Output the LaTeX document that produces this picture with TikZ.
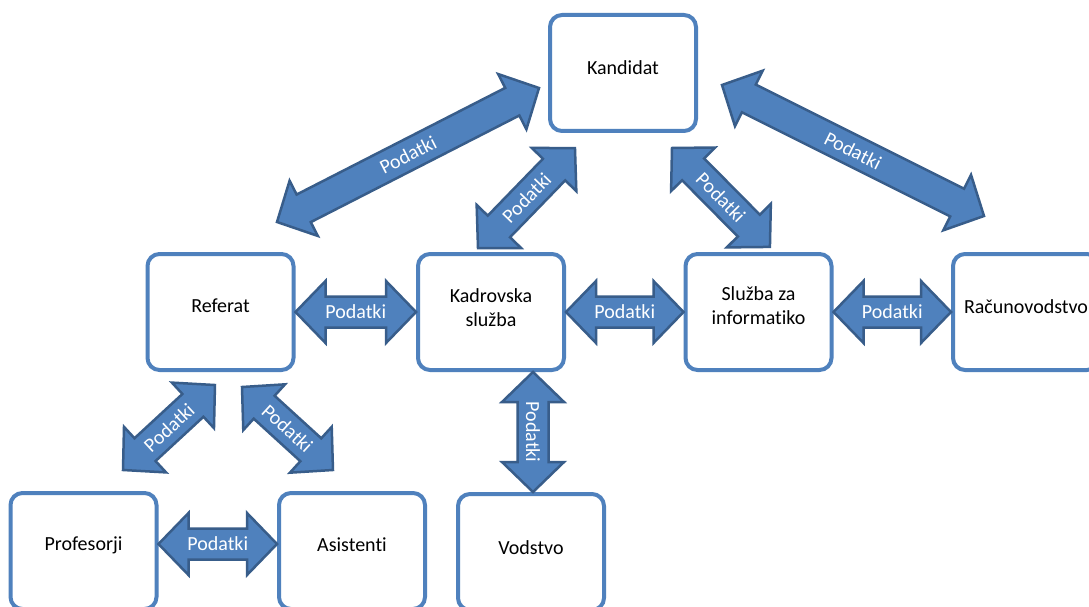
\documentclass[tikz,border=0pt]{standalone}
\usepackage{fontspec}
\setmainfont{Carlito}[Ligatures={NoCommon,NoContextual}]
\usetikzlibrary{calc}
\definecolor{boxblue}{HTML}{4F81BD}
\definecolor{arrowfill}{HTML}{4F81BD}
\definecolor{arrowedge}{HTML}{385D8A}
\tikzset{
  box/.style={draw=boxblue, line width=4pt, fill=white, rounded corners=12pt,
    minimum width=146pt, minimum height=116pt, inner sep=0pt},
  boxtext/.style={text=black, font=\fontsize{20}{24}\selectfont, align=center, inner sep=0pt},
  arrowbody/.style={fill=arrowfill, draw=arrowedge, line width=2.5pt, line join=miter},
  arrowtext/.style={text=white, font=\fontsize{20}{24}\selectfont, inner sep=0pt}
}
% block double arrow between two named coordinates
\newcommand\blockarr[2]{%
  \pgfmathanglebetweenpoints{\pgfpointanchor{#1}{center}}{\pgfpointanchor{#2}{center}}%
  \let\arrang\pgfmathresult
  \pgfpointdiff{\pgfpointanchor{#1}{center}}{\pgfpointanchor{#2}{center}}%
  \pgfgetlastxy{\arrdx}{\arrdy}%
  \pgfmathsetmacro\arrlen{veclen(\arrdx,\arrdy)}%
  \begin{scope}[shift={(#1)},rotate=\arrang]
    \filldraw[arrowbody] (0,0) -- (30,31) -- (30,15.5) -- ({\arrlen-30},15.5)
      -- ({\arrlen-30},31) -- (\arrlen,0) -- ({\arrlen-30},-31) -- ({\arrlen-30},-15.5)
      -- (30,-15.5) -- (30,-31) -- cycle;
    \node[arrowtext,transform shape] at ({\arrlen/2},0) {Podatki};
  \end{scope}}
\begin{document}
\begin{tikzpicture}[x=1pt,y=-1pt]
\useasboundingbox (0,0) rectangle (1089,607);
\clip (0,0) rectangle (1089,607);
\fill[white] (0,0) rectangle (1089,607);

% boxes
\node[box] (kand) at (623,73) {};
\node[box] (ref)  at (220.5,312) {};
\node[box] (kad)  at (491,312) {};
\node[box] (sluz) at (758.5,312) {};
\node[box] (rac)  at (1026,312) {};
\node[box] (prof) at (83.5,551) {};
\node[box] (asis) at (352,551) {};
\node[box] (vod)  at (531,552) {};

% texts
\node[boxtext] (kandt) at ($(kand.center)+(0,-5)$) {Kandidat};
\node[boxtext] (reft)  at ($(ref.center)+(0,-6)$) {Referat};
\node[boxtext] (kadt)  at ($(kad.center)+(0,-4)$) {Kadrovska\\služba};
\node[boxtext] (sluzt) at ($(sluz.center)+(0,-6)$) {Služba za\\informatiko};
\node[boxtext] (ract)  at ($(rac.center)+(0,-5)$) {Računovodstvo};
\node[boxtext] (proft) at ($(prof.center)+(0,-6)$) {Profesorji};
\node[boxtext] (asist) at ($(asis.center)+(0,-6)$) {Asistenti};
\node[boxtext] (vodt)  at ($(vod.center)+(0,-4)$) {Vodstvo};

% arrow end points
\coordinate (a1s) at ($(ref.north)+(56.5,-30)$);
\coordinate (a1e) at ($(kand.west)+(-9,15)$);
\coordinate (a2s) at ($(kad.north)+(-13,-4)$);
\coordinate (a2e) at ($(kand.south)+(-48,15)$);
\coordinate (a3s) at ($(kand.south)+(49,15)$);
\coordinate (a3e) at ($(sluz.north)+(11.5,-5)$);
\coordinate (a4s) at ($(kand.east)+(24,12)$);
\coordinate (a4e) at ($(rac.north)+(-42,-36)$);
\coordinate (a5s) at (ref.east);
\coordinate (a5e) at (kad.west);
\coordinate (a6s) at (kad.east);
\coordinate (a6e) at (sluz.west);
\coordinate (a7s) at (sluz.east);
\coordinate (a7e) at (rac.west);
\coordinate (a8s) at ($(vod.north |- kad.south)+(2,0)$);
\coordinate (a8e) at ($(vod.north)+(2,0)$);
\coordinate (a9s) at ($(prof.north)+(39.5,-21)$);
\coordinate (a9e) at ($(ref.south)+(-5.5,13)$);
\coordinate (a10s) at ($(ref.south)+(21.5,15)$);
\coordinate (a10e) at ($(asis.north)+(-19,-21)$);
\coordinate (a11s) at ($(prof.east)+(0,-7)$);
\coordinate (a11e) at ($(asis.west)+(0,-7)$);

\blockarr{a1s}{a1e}
\blockarr{a2s}{a2e}
\blockarr{a3s}{a3e}
\blockarr{a4s}{a4e}
\blockarr{a5s}{a5e}
\blockarr{a6s}{a6e}
\blockarr{a7s}{a7e}
\blockarr{a8s}{a8e}
\blockarr{a9s}{a9e}
\blockarr{a10s}{a10e}
\blockarr{a11s}{a11e}
\end{tikzpicture}
\end{document}
